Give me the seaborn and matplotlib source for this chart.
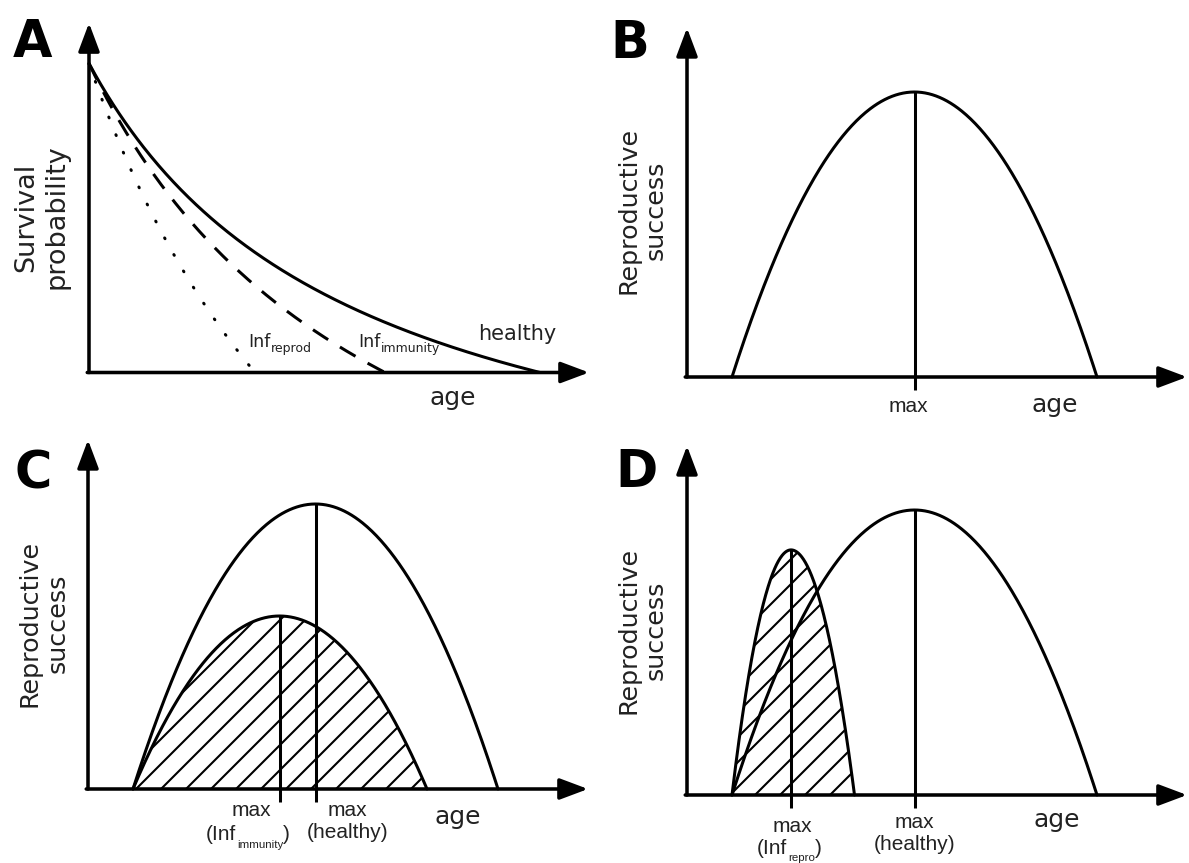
import numpy as np
import matplotlib
matplotlib.use("Agg")
import matplotlib.pyplot as plt
import seaborn as sns

# ---- Panel A: survival with age -------------------------------------------
survival_groups = ["healthy", "Inf_immunity", "Inf_reprod"]
survival_at_birth = [1.0, 1.0, 1.0]
max_lifespan = [9.02, 5.92, 3.32]
survival_bend = [1.7, 1.0, 0.55]
survival_styles = ["solid", "dashed", "dotted"]

# ---- Panels B-D: reproductive success with age ----------------------------
repro_groups = ["healthy", "Inf_immunity", "Inf_repro"]
repro_onset = [0.9, 0.9, 0.9]
repro_peak_age = [4.55, 3.83, 2.08]
repro_peak = [1.0, 0.607, 0.86]
repro_end = [8.2, 6.78, 3.35]

W, H, DPI = 1189, 863, 150
LW = 1.45      # curve width (pt)
AX_LW = 1.7    # axis width (pt)
SANS = "DejaVu Sans"
ARIAL = "Liberation Sans"

sns.set_theme(style="white")
plt.rcParams["font.family"] = [SANS]
plt.rcParams["hatch.linewidth"] = 1.0
plt.rcParams["hatch.color"] = "black"

fig = plt.figure(figsize=(W / DPI, H / DPI), dpi=DPI)


def make_panel(box, origin, scale):
    left, top, right, bottom = box
    ox, oy = origin
    sx, sy = scale
    ax = fig.add_axes([left / W, 1 - bottom / H, (right - left) / W, (bottom - top) / H])
    ax.set_xlim((left - ox) / sx, (right - ox) / sx)
    ax.set_ylim((oy - bottom) / sy, (oy - top) / sy)
    ax.axis("off")
    return ax


def draw_axes(ax, x_tip, y_tip):
    arrow = dict(arrowstyle="-|>,head_length=0.8,head_width=0.3", color="black",
                 lw=AX_LW, mutation_scale=14.4, shrinkA=0, shrinkB=0)
    ax.annotate("", xy=(x_tip, 0), xytext=(-0.035, 0), arrowprops=arrow,
                annotation_clip=False)
    ax.annotate("", xy=(0, y_tip), xytext=(0, 0), arrowprops=arrow,
                annotation_clip=False)


def survival_curve(s0, lifespan, bend, n=300):
    age = np.linspace(0, lifespan, n)
    u = age / lifespan
    return age, s0 * (1 - u) / (1 + bend * u)


def repro_curve(i, n=400):
    onset, peak_age, peak, end = repro_onset[i], repro_peak_age[i], repro_peak[i], repro_end[i]
    age = np.linspace(onset, end, n)
    width = np.where(age < peak_age, peak_age - onset, end - peak_age)
    return age, peak * (1 - ((age - peak_age) / width) ** 2)


def draw_repro(ax, i, hatched=False):
    age, rs = repro_curve(i)
    if hatched:
        ax.fill_between(age, 0, rs, facecolor="none", edgecolor="black",
                        hatch="//", linewidth=0, zorder=1)
    sns.lineplot(x=age, y=rs, ax=ax, color="black", linewidth=LW, sort=False,
                 estimator=None, legend=False, zorder=3)
    ax.vlines(repro_peak_age[i], -0.047, repro_peak[i], color="black",
              linewidth=LW, zorder=3)


def panel_letter(ax, x, y, letter):
    ax.text(x, y, letter, fontsize=24.5, fontweight="bold", ha="center",
            va="baseline", family=SANS, color="black")


def y_title(ax, x, y, text, size):
    ax.text(x, y, text, rotation=90, ha="center", va="center", ma="center",
            fontsize=size, linespacing=1.2, color="#222222")


def sub_label(ax, x, y, base, sub, tail, size, subsize, family, drop):
    t1 = ax.text(x, y, base, ha="left", va="center", fontsize=size,
                 family=family, color="#222222")
    t2 = ax.annotate(sub, xy=(1, 0), xycoords=t1, xytext=(0.3, drop),
                     textcoords="offset points", ha="left", va="bottom",
                     fontsize=subsize, family=family, color="#222222")
    if tail:
        ax.annotate(tail, xy=(1, 0), xycoords=(t2, t1), ha="left", va="bottom",
                    fontsize=size, family=family, color="#222222")


def small(ax, x, y, text, size=10):
    ax.text(x, y, text, ha="center", va="center", fontsize=size, family=ARIAL,
            color="#222222")


# ---------------- Panel A ----------------
axA = make_panel((0, 0, 594, 431), (89, 372.5), (50.0, 309.0))
draw_axes(axA, 10.0, 1.131)
for s0, life, bend, style in zip(survival_at_birth, max_lifespan, survival_bend, survival_styles):
    age, surv = survival_curve(s0, life, bend)
    kw = dict(color="black", linewidth=LW, sort=False, estimator=None, legend=False)
    if style == "dashed":
        kw["linestyle"] = (0, (6.0, 4.6))
    elif style == "dotted":
        kw["linestyle"] = (0, (0.3, 6.0))
        kw["dash_capstyle"] = "round"
    sns.lineplot(x=age, y=surv, ax=axA, **kw)

panel_letter(axA, -1.14, 1.021, "A")
y_title(axA, -0.95, 0.503, "Survival\nprobability", 13)
axA.text(8.56, 0.125, "healthy", ha="center", va="center", fontsize=10, color="#222222")
sub_label(axA, 3.18, 0.099, "Inf", "reprod", "", 8.4, 6, SANS, -2.0)
sub_label(axA, 5.38, 0.099, "Inf", "immunity", "", 8.4, 6, SANS, -2.0)
axA.text(7.28, -0.083, "age", ha="center", va="center", fontsize=12, color="#222222")

# ---------------- Panel B ----------------
axB = make_panel((594, 0, 1189, 431), (687, 377), (50.0, 285.0))
draw_axes(axB, 10.0, 1.225)
draw_repro(axB, 0)
panel_letter(axB, -1.14, 1.119, "B")
y_title(axB, -0.9, 0.586, "Reproductive\nsuccess", 12.2)
small(axB, 4.42, -0.105, "max")
axB.text(7.36, -0.098, "age", ha="center", va="center", fontsize=12, color="#222222")

# ---------------- Panel C ----------------
axC = make_panel((0, 431, 594, 863), (88, 789), (50.0, 285.0))
draw_axes(axC, 10.0, 1.225)
draw_repro(axC, 1, hatched=True)
draw_repro(axC, 0)
panel_letter(axC, -1.1, 1.056, "C")
y_title(axC, -0.89, 0.582, "Reproductive\nsuccess", 12.2)
small(axC, 3.26, -0.074, "max")
sub_label(axC, 2.36, -0.161, "(Inf", "immunity", ")", 10, 5.5, ARIAL, -2.5)
small(axC, 5.18, -0.074, "max")
small(axC, 5.2, -0.154, "(healthy)")
axC.text(7.4, -0.098, "age", ha="center", va="center", fontsize=12, color="#222222")

# ---------------- Panel D ----------------
axD = make_panel((594, 431, 1189, 863), (687, 795), (50.0, 285.0))
draw_axes(axD, 10.0, 1.225)
draw_repro(axD, 2, hatched=True)
draw_repro(axD, 0)
panel_letter(axD, -1.02, 1.081, "D")
y_title(axD, -0.9, 0.579, "Reproductive\nsuccess", 12.2)
small(axD, 2.1, -0.112, "max")
sub_label(axD, 1.4, -0.186, "(Inf", "repro", ")", 10, 5.5, ARIAL, -2.5)
small(axD, 4.54, -0.098, "max")
small(axD, 4.56, -0.175, "(healthy)")
axD.text(7.4, -0.088, "age", ha="center", va="center", fontsize=12, color="#222222")

fig.savefig("out.png", dpi=DPI, facecolor="white")
